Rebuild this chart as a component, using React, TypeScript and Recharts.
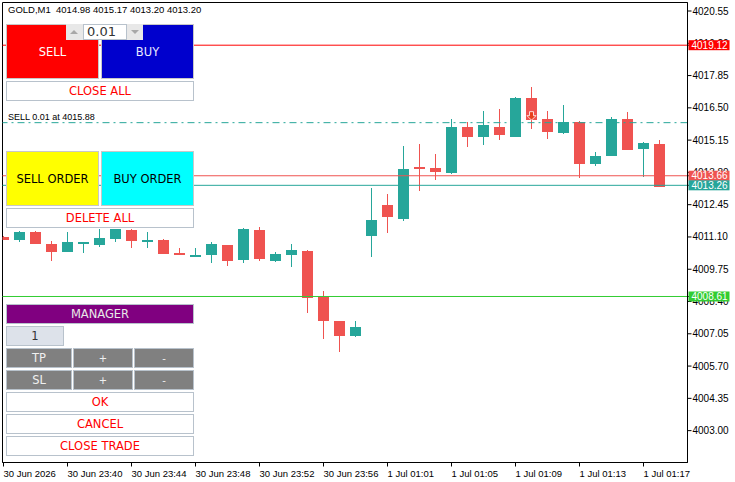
import React from 'react';
import { ComposedChart, Bar, XAxis, YAxis, ReferenceLine, ReferenceArea, ReferenceDot } from 'recharts';

// one-minute candles, oldest first (the first one is cut by the left edge)
const OPEN = [
  4011.1, 4010.98, 4011.31, 4010.8, 4010.47, 4010.85, 4010.76, 4011.03, 4011.38, 4010.89,
  4010.97, 4010.44, 4010.33, 4010.32, 4010.76, 4010.15, 4011.38, 4010.11, 4010.32, 4010.51,
  4008.59, 4007.59, 4006.97, 4011.15, 4012.44, 4011.86, 4014.03, 4013.98, 4013.79, 4015.7,
  4015.28, 4015.7, 4015.28, 4016.91, 4016.03, 4015.45, 4015.91, 4014.15, 4014.49, 4016.03,
  4014.78, 4014.98,
];
const HIGH = [
  4011.12, 4011.35, 4011.35, 4010.93, 4011.31, 4010.89, 4011.44, 4011.45, 4011.42, 4011.31,
  4011.01, 4010.64, 4010.64, 4010.89, 4010.78, 4011.47, 4011.51, 4010.47, 4010.8, 4010.55,
  4008.84, 4007.6, 4007.59, 4013.14, 4012.9, 4014.9, 4014.99, 4014.57, 4016.03, 4015.91,
  4016.37, 4016.45, 4016.95, 4017.37, 4016.37, 4016.62, 4015.93, 4014.65, 4016.12, 4016.33,
  4015.07, 4015.17,
];
const LOW = [
  4010.96, 4010.9, 4010.8, 4010.11, 4010.47, 4010.43, 4010.68, 4010.9, 4010.65, 4010.65,
  4010.4, 4010.36, 4010.27, 4010.02, 4009.9, 4010.02, 4010.11, 4010.07, 4009.86, 4007.93,
  4006.84, 4006.3, 4006.93, 4010.27, 4011.28, 4011.78, 4013.03, 4013.49, 4013.75, 4014.86,
  4014.95, 4015.15, 4015.28, 4015.61, 4015.2, 4015.41, 4013.57, 4014.07, 4014.47, 4014.72,
  4013.61, 4013.2,
];
const CLOSE = [
  4010.98, 4011.31, 4010.8, 4010.47, 4010.89, 4010.87, 4011.06, 4011.43, 4010.9, 4010.97,
  4010.4, 4010.36, 4010.35, 4010.8, 4010.07, 4011.43, 4010.15, 4010.39, 4010.55, 4008.56,
  4007.6, 4006.97, 4007.33, 4011.81, 4011.95, 4013.94, 4013.94, 4013.83, 4015.7, 4015.28,
  4015.78, 4015.36, 4016.91, 4015.99, 4015.49, 4015.91, 4014.15, 4014.49, 4016.03, 4014.74,
  4015.03, 4013.2,
];

const TICK_INDEX = [0, 4, 8, 12, 16, 20, 24, 28, 32, 36, 40];
const TICK_LABELS = [
  '30 Jun 2026', '30 Jun 23:40', '30 Jun 23:44', '30 Jun 23:48', '30 Jun 23:52', '30 Jun 23:56',
  '1 Jul 01:01', '1 Jul 01:05', '1 Jul 01:09', '1 Jul 01:13', '1 Jul 01:17',
];
const PRICE_TICKS = [
  4003.0, 4004.35, 4005.7, 4007.05, 4008.4, 4009.75, 4011.1, 4012.45, 4013.8, 4015.15,
  4016.5, 4017.85, 4019.2, 4020.55,
];

const LEVEL_PRICES = [4019.12, 4013.66, 4013.26, 4008.61];
const LEVEL_COLORS = ['#ff0000', '#ef5350', '#26a69a', '#32cd32'];

const SELL_LOT = 0.01;
const SELL_PRICE = 4015.88;
const SELL_INDEX = 33;

const TEAL = '#26a69a';
const RED = '#ef5350';
const AXIS_FONT = '"Liberation Sans", Arial, sans-serif';
const UI_FONT = '"DejaVu Sans", Verdana, sans-serif';

// visible window (candle index / price), set so 1 candle = 16px and 1.00 = ~23.9px
const X_MIN = -0.0625;
const X_MAX = 42.75;
const Y_MIN = 4001.667;
const Y_MAX = 4020.906;

const candles = OPEN.map((o, i) => ({ i, open: o, high: HIGH[i], low: LOW[i], close: CLOSE[i] }));
const last = candles[candles.length - 1];

function Candle(props: any) {
  const { x, y, width, height, payload } = props;
  if (x == null || y == null) return null;
  const { open, close, high, low } = payload;
  const k = high === low ? 0 : height / (high - low);
  const cx = Math.floor(x + width / 2) + 0.5;
  const yO = y + (high - open) * k;
  const yC = y + (high - close) * k;
  const color = close >= open ? TEAL : RED;
  const top = Math.round(Math.min(yO, yC));
  const h = Math.max(Math.round(Math.abs(yO - yC)), 2);
  return (
    <g shapeRendering="crispEdges">
      <line x1={cx} x2={cx} y1={Math.round(y)} y2={Math.round(y + height)} stroke={color} strokeWidth={1} />
      <rect x={cx - 5.5} y={top} width={11} height={h} fill={color} />
    </g>
  );
}

function TimeTick(props: any) {
  const { x, y, payload } = props;
  const label = TICK_LABELS[TICK_INDEX.indexOf(payload.value)];
  return (
    <text x={x} y={y + 8.5} fontSize={9.5} fontFamily={AXIS_FONT} fill="#000" textAnchor="start">
      {label}
    </text>
  );
}

// price labels; the level prices come last so their coloured tags sit on top
function PriceTick(props: any) {
  const { x, y, payload } = props;
  const v = Number(payload.value);
  const li = LEVEL_PRICES.indexOf(v);
  if (li >= 0) {
    return (
      <g>
        <rect x={x - 4} y={y - 5} width={41} height={10} fill={LEVEL_COLORS[li]} />
        <text x={x - 1} y={y + 3.5} fontSize={10} fontFamily={AXIS_FONT} fill="#fff">
          {v.toFixed(2)}
        </text>
      </g>
    );
  }
  return (
    <text x={x} y={y + 3.5} fontSize={10} fontFamily={AXIS_FONT} fill="#000" textAnchor="start">
      {v.toFixed(2)}
    </text>
  );
}

function SellText(props: any) {
  const { viewBox } = props;
  if (!viewBox) return null;
  return (
    <text x={viewBox.x + 5.5} y={viewBox.y - 3} fontSize={9} fontFamily={AXIS_FONT} fill="#000">
      {`SELL ${SELL_LOT.toFixed(2)} at ${SELL_PRICE.toFixed(2)}`}
    </text>
  );
}

function SellArrow(props: any) {
  const { cx, cy } = props;
  if (cx == null || cy == null) return null;
  const pts = [
    [cx - 2, cy - 11], [cx + 2, cy - 11], [cx + 2, cy - 7], [cx + 4.5, cy - 7],
    [cx, cy - 2.5], [cx - 4.5, cy - 7], [cx - 2, cy - 7],
  ].map((p) => p.join(',')).join(' ');
  return <polygon points={pts} fill="#e8401c" stroke="#fff" strokeWidth={0.8} strokeLinejoin="round" />;
}

function Btn({ x, y, w, h, bg, color, text, size = 11.5, border = '#b8c2cc' }: any) {
  return (
    <div
      style={{
        position: 'absolute', left: x, top: y, width: w, height: h, background: bg, color,
        border: `1px solid ${border}`, boxSizing: 'border-box', display: 'flex',
        alignItems: 'center', justifyContent: 'center', fontSize: size, fontFamily: UI_FONT,
        whiteSpace: 'nowrap',
      }}
    >
      {text}
    </div>
  );
}

function Triangle({ x, y, up }: any) {
  return (
    <div
      style={{
        position: 'absolute', left: x, top: y, width: 0, height: 0,
        borderLeft: '4px solid transparent', borderRight: '4px solid transparent',
        ...(up ? { borderBottom: '4px solid #a8a8a8' } : { borderTop: '4px solid #a8a8a8' }),
      }}
    />
  );
}

export default function App() {
  return (
    <div style={{ position: 'absolute', left: 0, top: 0, width: 735, height: 482, background: '#fff', overflow: 'hidden' }}>
      <ComposedChart
        width={735}
        height={482}
        data={candles}
        margin={{ top: 2.5, right: 0, bottom: 0, left: 2.5 }}
      >
        <XAxis
          dataKey="i"
          type="number"
          domain={[X_MIN, X_MAX]}
          allowDataOverflow
          ticks={TICK_INDEX}
          interval={0}
          tick={<TimeTick />}
          tickSize={4}
          tickMargin={2}
          height={19.5}
          axisLine={{ stroke: '#000' }}
          tickLine={{ stroke: '#000' }}
        />
        <YAxis
          orientation="right"
          type="number"
          domain={[Y_MIN, Y_MAX]}
          allowDataOverflow
          ticks={[...PRICE_TICKS, ...LEVEL_PRICES]}
          interval={0}
          tick={<PriceTick />}
          tickSize={4}
          tickMargin={1}
          width={47.5}
          axisLine={{ stroke: '#000' }}
          tickLine={{ stroke: '#000' }}
        />
        <ReferenceArea x1={X_MIN} x2={X_MAX} y1={Y_MIN} y2={Y_MAX} fill="none" stroke="#000" ifOverflow="visible" />
        <ReferenceLine
          y={SELL_PRICE}
          stroke={TEAL}
          strokeDasharray="7 4 2 4"
          label={(p: any) => <SellText {...p} />}
        />
        {LEVEL_PRICES.map((price, i) => (
          <ReferenceLine key={price} y={price} stroke={LEVEL_COLORS[i]} />
        ))}
        <Bar
          dataKey={(d: any) => [d.low, d.high]}
          barSize={11}
          shape={(p: any) => <Candle {...p} />}
          isAnimationActive={false}
        />
        <ReferenceDot x={SELL_INDEX} y={SELL_PRICE} shape={(p: any) => <SellArrow {...p} />} />
      </ComposedChart>

      <div style={{ position: 'absolute', left: 8, top: 4, fontSize: 9.5, fontFamily: AXIS_FONT, color: '#000', whiteSpace: 'pre' }}>
        {`GOLD,M1  ${last.open.toFixed(2)} ${last.high.toFixed(2)} ${last.low.toFixed(2)} ${last.close.toFixed(2)}`}
      </div>

      <Btn x={6} y={24} w={93} h={55} bg="#ff0000" color="#fff" text="SELL" border="#c8c8c8" />
      <Btn x={101} y={24} w={93} h={55} bg="#0000cd" color="#e8e8ff" text="BUY" border="#c8c8c8" />
      <div style={{ position: 'absolute', left: 66, top: 24, width: 17, height: 16, background: '#e8e8e8' }} />
      <Triangle x={70} y={30} up />
      <div
        style={{
          position: 'absolute', left: 83, top: 24, width: 44, height: 16, background: '#fff',
          border: '1px solid #b8c2cc', boxSizing: 'border-box', fontSize: 13, fontFamily: UI_FONT,
          color: '#333', paddingLeft: 3, lineHeight: '14px',
        }}
      >
        0.01
      </div>
      <div style={{ position: 'absolute', left: 127, top: 24, width: 16, height: 16, background: '#e8e8e8' }} />
      <Triangle x={131} y={30} />
      <Btn x={6} y={81} w={188} h={20} bg="#fff" color="#ff0000" text="CLOSE ALL" />

      <Btn x={6} y={151} w={93} h={55} bg="#ffff00" color="#000" text="SELL ORDER" border="#c8c8c8" />
      <Btn x={101} y={151} w={93} h={55} bg="#00ffff" color="#000" text="BUY ORDER" border="#c8c8c8" />
      <Btn x={6} y={208} w={188} h={20} bg="#fff" color="#ff0000" text="DELETE ALL" />

      <Btn x={6} y={304} w={188} h={20} bg="#800080" color="#e8e8e8" text="MANAGER" />
      <Btn x={6} y={326} w={58} h={20} bg="#dde2ea" color="#333" text="1" />
      <Btn x={6} y={348} w={66} h={20} bg="#808080" color="#f0f0f0" text="TP" />
      <Btn x={73} y={348} w={60} h={20} bg="#808080" color="#f0f0f0" text="+" size={10} />
      <Btn x={134} y={348} w={60} h={20} bg="#808080" color="#f0f0f0" text="-" size={10} />
      <Btn x={6} y={370} w={66} h={20} bg="#808080" color="#f0f0f0" text="SL" />
      <Btn x={73} y={370} w={60} h={20} bg="#808080" color="#f0f0f0" text="+" size={10} />
      <Btn x={134} y={370} w={60} h={20} bg="#808080" color="#f0f0f0" text="-" size={10} />
      <Btn x={6} y={392} w={188} h={20} bg="#fff" color="#ff0000" text="OK" />
      <Btn x={6} y={414} w={188} h={20} bg="#fff" color="#ff0000" text="CANCEL" />
      <Btn x={6} y={436} w={188} h={20} bg="#fff" color="#ff0000" text="CLOSE TRADE" />
    </div>
  );
}
